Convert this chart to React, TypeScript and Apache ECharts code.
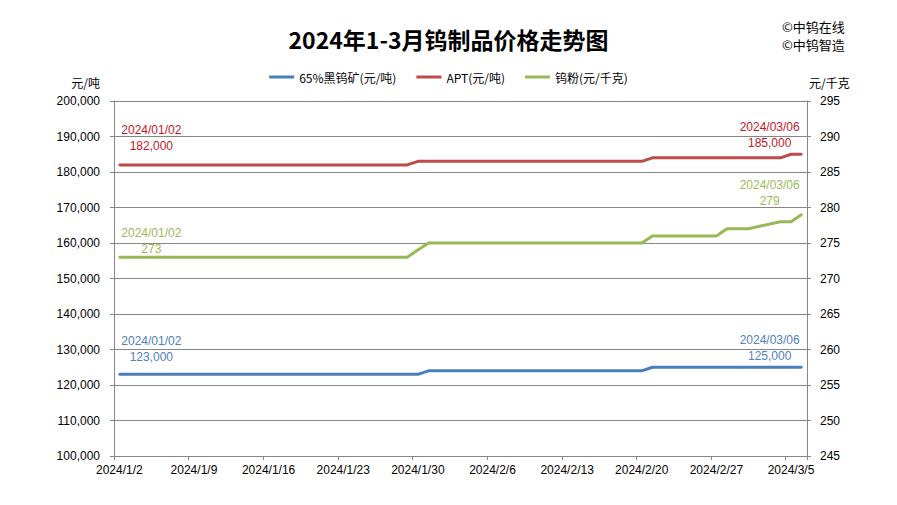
import React, { useEffect, useRef } from 'react';
import * as echarts from 'echarts';

// ---- Data ----
const DAY_COUNT = 65; // 2024/1/2 .. 2024/3/6, every calendar day
const categories: string[] = (() => {
  const out: string[] = [];
  const d = new Date(2024, 0, 2);
  for (let i = 0; i < DAY_COUNT; i++) {
    out.push(`${d.getFullYear()}/${d.getMonth() + 1}/${d.getDate()}`);
    d.setDate(d.getDate() + 1);
  }
  return out;
})();

const seriesNames = ['65%黑钨矿(元/吨)', 'APT(元/吨)', '钨粉(元/千克)'];

// 65% wolframite concentrate (yuan/ton)
const wolframite: number[] = [
  123000, 123000, 123000, 123000, 123000, 123000, 123000,
  123000, 123000, 123000, 123000, 123000, 123000, 123000,
  123000, 123000, 123000, 123000, 123000, 123000, 123000,
  123000, 123000, 123000, 123000, 123000, 123000, 123000,
  123000, 124000, 124000, 124000, 124000, 124000, 124000,
  124000, 124000, 124000, 124000, 124000, 124000, 124000,
  124000, 124000, 124000, 124000, 124000, 124000, 124000,
  124000, 125000, 125000, 125000, 125000, 125000, 125000,
  125000, 125000, 125000, 125000, 125000, 125000, 125000,
  125000, 125000,
];

// APT (yuan/ton)
const apt: number[] = [
  182000, 182000, 182000, 182000, 182000, 182000, 182000,
  182000, 182000, 182000, 182000, 182000, 182000, 182000,
  182000, 182000, 182000, 182000, 182000, 182000, 182000,
  182000, 182000, 182000, 182000, 182000, 182000, 182000,
  183000, 183000, 183000, 183000, 183000, 183000, 183000,
  183000, 183000, 183000, 183000, 183000, 183000, 183000,
  183000, 183000, 183000, 183000, 183000, 183000, 183000,
  183000, 184000, 184000, 184000, 184000, 184000, 184000,
  184000, 184000, 184000, 184000, 184000, 184000, 184000,
  185000, 185000,
];

// Tungsten powder (yuan/kg)
const powder: (number | null)[] = [
  273, 273, 273, 273, 273, 273, 273,
  273, 273, 273, 273, 273, 273, 273,
  273, 273, 273, 273, 273, 273, 273,
  273, 273, 273, 273, 273, 273, 273,
  274, 275, 275, 275, 275, 275, 275,
  275, 275, 275, 275, 275, 275, 275,
  275, 275, 275, 275, 275, 275, 275,
  275, 276, 276, 276, 276, 276, 276,
  276, 277, 277, 277, null, null, 278,
  278, 279,
];

const leftTicks = { min: 100000, max: 200000, interval: 10000 };
const rightTicks = { min: 245, max: 295, interval: 5 };

// ---- Styles ----
const FONT = '"Liberation Sans", "Noto Sans CJK SC", sans-serif';
const CJK = '"Noto Sans CJK SC", "Liberation Sans", sans-serif';
const BLUE = '#4A7EBB';
const RED = '#BE4B48';
const GREEN = '#98B954';
const BLUE_TXT = '#4F81BD';
const RED_TXT = '#C0182A';
const GREEN_TXT = '#9BBB59';
const GRID = '#868686';

const pad2 = (n: string) => (n.length < 2 ? '0' + n : n);
const fmtDate = (s: string) => {
  const [y, m, d] = s.split('/');
  return `${y}/${pad2(m)}/${pad2(d)}`;
};
const fmtNum = (v: number) => v.toLocaleString('en-US');

function withLabels(
  values: (number | null)[],
  color: string,
  txtColor: string,
  startOffset: number[],
  endOffset: number[]
) {
  const last = values.length - 1;
  return values.map((v, i) => {
    if (i !== 0 && i !== last) return v;
    return {
      value: v,
      symbol: 'circle',
      symbolSize: 2,
      itemStyle: { color },
      label: {
        show: true,
        position: 'top',
        distance: 0,
        offset: i === 0 ? startOffset : endOffset,
        color: txtColor,
        fontSize: 12,
        lineHeight: 16,
        fontFamily: FONT,
        align: 'center',
        formatter: (p: any) => `${fmtDate(p.name)}\n${fmtNum(p.value)}`,
      },
    };
  });
}

export default function App() {
  const ref = useRef<HTMLDivElement>(null);
  useEffect(() => {
    if (!ref.current) return;
    const chart = echarts.init(ref.current, undefined, { renderer: 'svg' });
    const option: any = {
      animation: false,
      backgroundColor: '#ffffff',
      title: {
        text: '2024年1-3月钨制品价格走势图',
        left: 'center',
        top: 22,
        textStyle: { fontFamily: CJK, fontSize: 23, fontWeight: 'bold', color: '#000' },
      },
      graphic: [
        {
          type: 'text',
          left: 782,
          top: 20,
          style: { text: '©中钨在线', font: `13px ${CJK}`, fill: '#000' },
        },
        {
          type: 'text',
          left: 782,
          top: 38,
          style: { text: '©中钨智造', font: `13px ${CJK}`, fill: '#000' },
        },
      ],
      legend: {
        top: 66,
        left: 'center',
        icon: 'rect',
        itemWidth: 25,
        itemHeight: 3,
        itemGap: 20,
        textStyle: { fontFamily: CJK, fontSize: 12, color: '#000' },
        data: seriesNames,
      },
      grid: { left: 114, right: 90, top: 101, bottom: 49, containLabel: false },
      xAxis: {
        type: 'category',
        data: categories,
        boundaryGap: true,
        axisLine: { lineStyle: { color: GRID, width: 1 } },
        axisTick: { show: true, interval: 6, length: 4, lineStyle: { color: GRID } },
        axisLabel: {
          interval: 6,
          margin: 8,
          color: '#000',
          fontFamily: FONT,
          fontSize: 12,
        },
        splitLine: { show: false },
      },
      yAxis: [
        {
          type: 'value',
          ...leftTicks,
          name: '元/吨',
          nameLocation: 'end',
          nameGap: 13,
          nameTextStyle: { fontFamily: CJK, fontSize: 12, color: '#000', align: 'right', padding: [0, 14, 0, 0] },
          axisLine: { show: true, lineStyle: { color: GRID } },
          axisTick: { show: true, length: 4, lineStyle: { color: GRID } },
          axisLabel: {
            margin: 14,
            color: '#000',
            fontFamily: FONT,
            fontSize: 12,
            formatter: (v: number) => fmtNum(v),
          },
          splitLine: { show: true, lineStyle: { color: GRID, width: 1 } },
        },
        {
          type: 'value',
          ...rightTicks,
          name: '元/千克',
          nameLocation: 'end',
          nameGap: 13,
          nameTextStyle: { fontFamily: CJK, fontSize: 12, color: '#000', align: 'left', padding: [0, 0, 0, 2] },
          axisLine: { show: true, lineStyle: { color: GRID } },
          axisTick: { show: true, length: 4, lineStyle: { color: GRID } },
          axisLabel: {
            margin: 13,
            color: '#000',
            fontFamily: FONT,
            fontSize: 12,
          },
          splitLine: { show: false },
        },
      ],
      series: [
        {
          name: seriesNames[0],
          type: 'line',
          yAxisIndex: 0,
          symbol: 'none',
          showSymbol: true,
          color: BLUE,
          lineStyle: { color: BLUE, width: 3 },
          data: withLabels(wolframite, BLUE, BLUE_TXT, [32, -8.6], [-32, -2]),
        },
        {
          name: seriesNames[1],
          type: 'line',
          yAxisIndex: 0,
          symbol: 'none',
          showSymbol: true,
          color: RED,
          lineStyle: { color: RED, width: 3 },
          data: withLabels(apt, RED, RED_TXT, [32, -10], [-32, -2]),
        },
        {
          name: seriesNames[2],
          type: 'line',
          yAxisIndex: 1,
          symbol: 'none',
          showSymbol: true,
          connectNulls: true,
          color: GREEN,
          lineStyle: { color: GREEN, width: 3 },
          data: withLabels(powder, GREEN, GREEN_TXT, [32, 1], [-32, -5]),
        },
      ],
    };
    chart.setOption(option);
    return () => chart.dispose();
  }, []);
  return (
    <div
      ref={ref}
      style={{ position: 'absolute', left: 0, top: 0, width: 897, height: 505, background: '#fff' }}
    />
  );
}
